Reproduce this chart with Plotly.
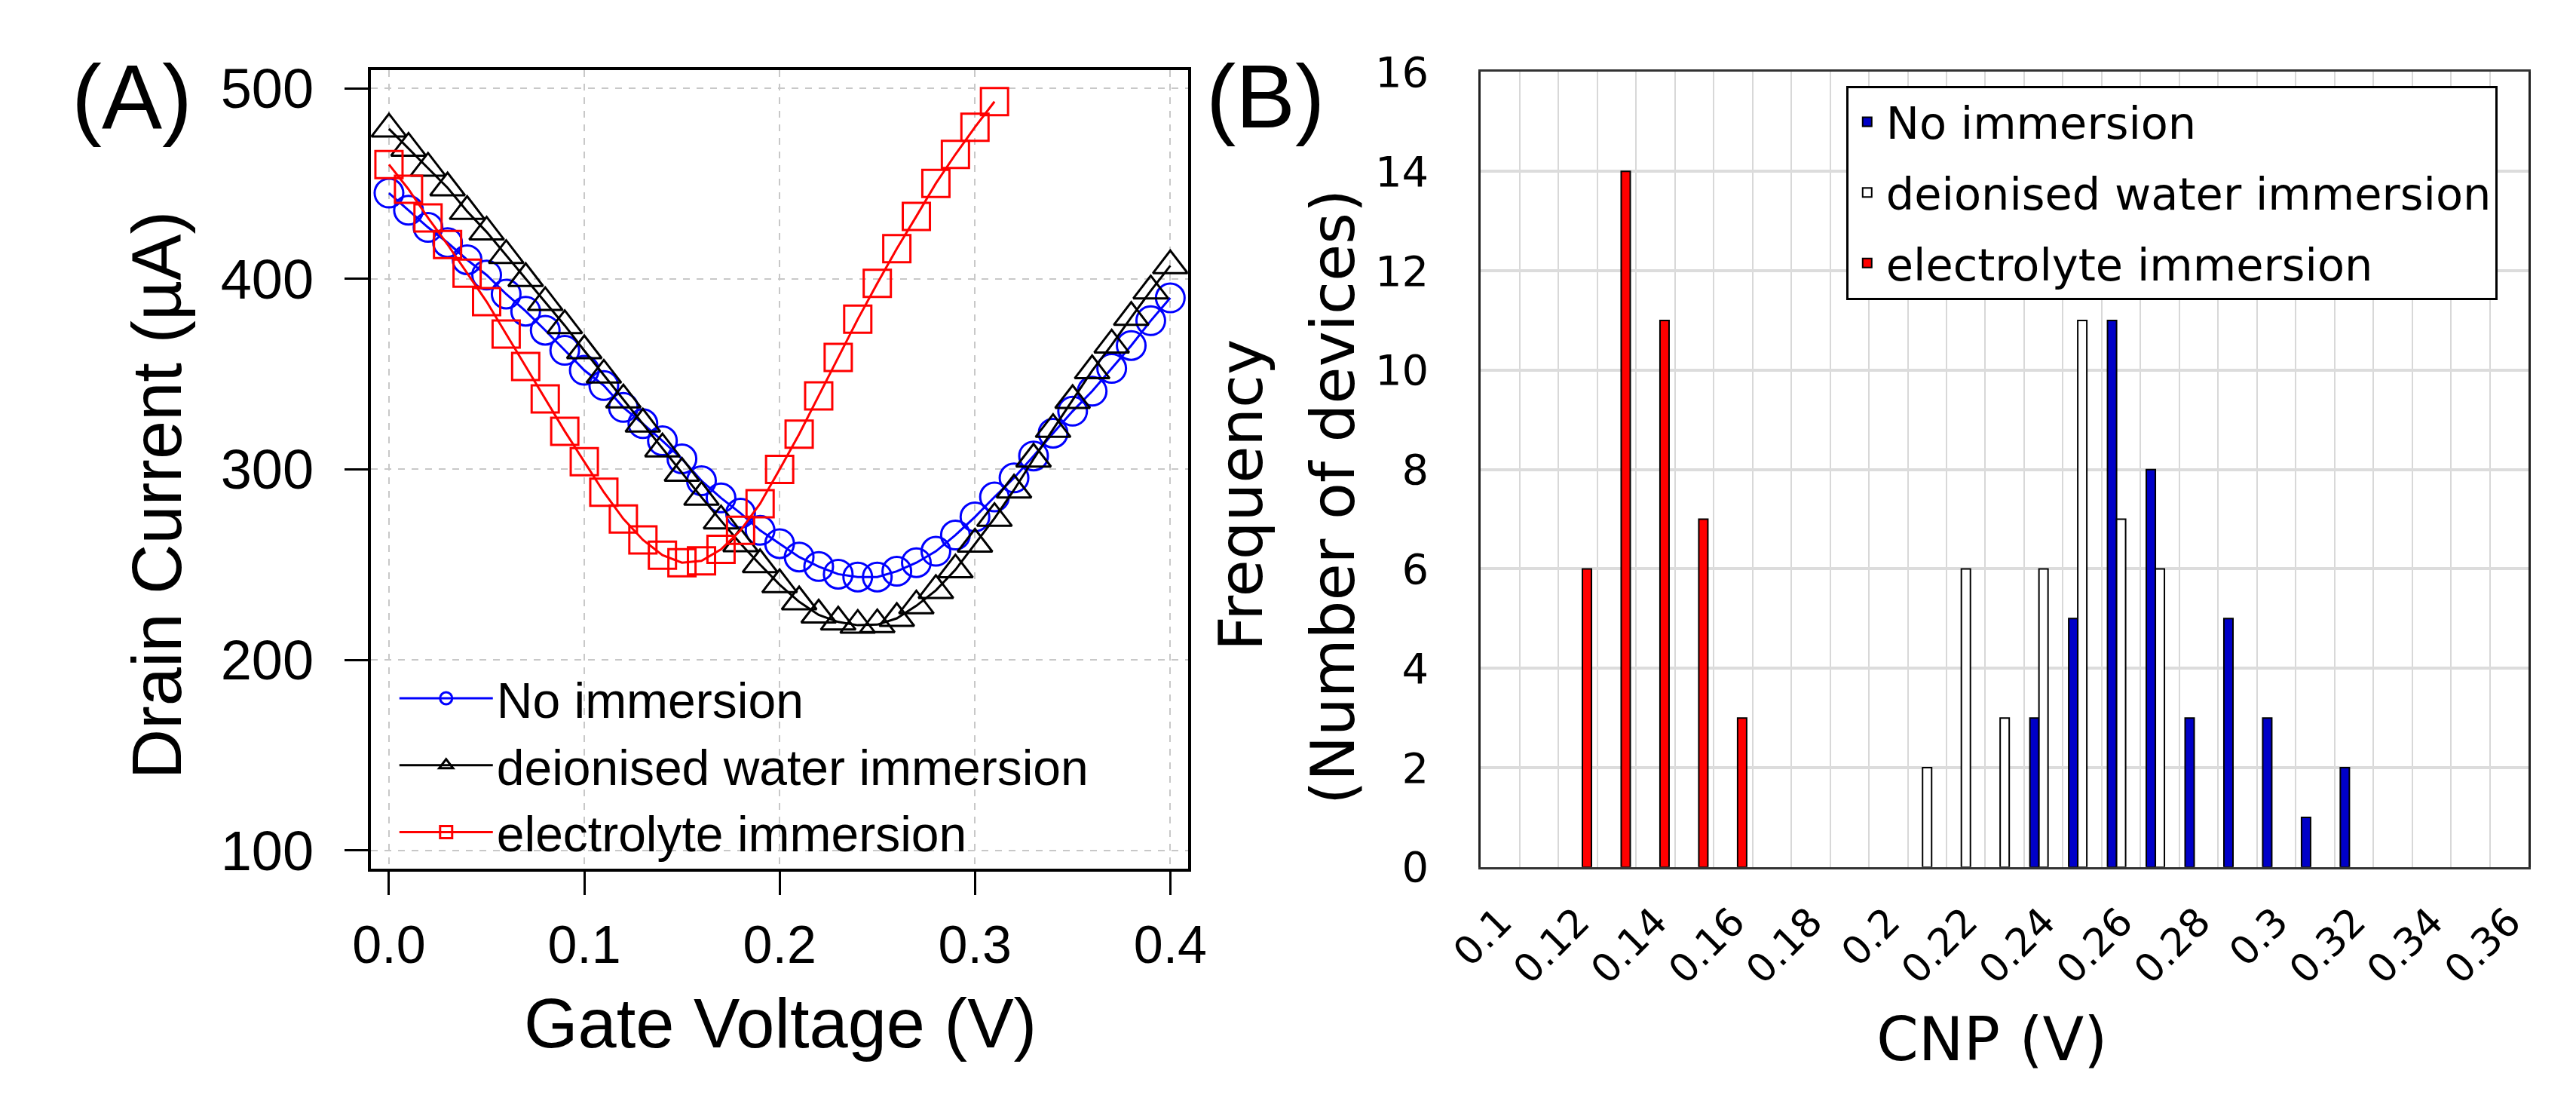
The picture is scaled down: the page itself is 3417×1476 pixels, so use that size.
import plotly.graph_objects as go

# ---------------- Panel A data: transfer curves ----------------
gate_v = [0.00, 0.01, 0.02, 0.03, 0.04, 0.05, 0.06, 0.07, 0.08, 0.09,
          0.10, 0.11, 0.12, 0.13, 0.14, 0.15, 0.16, 0.17, 0.18, 0.19,
          0.20, 0.21, 0.22, 0.23, 0.24, 0.25, 0.26, 0.27, 0.28, 0.29,
          0.30, 0.31, 0.32, 0.33, 0.34, 0.35, 0.36, 0.37, 0.38, 0.39, 0.40]

no_imm_current = [445, 436, 427, 419, 410, 402, 392, 383, 373, 362.5,
                  352, 344, 332.5, 324, 315, 305.5, 294, 285, 277, 268,
                  261, 254, 249, 245, 243.5, 243.5, 246.5, 251, 257, 265.5,
                  275, 285.5, 295.5, 307, 319, 330.5, 341, 353, 365, 378, 390]

di_current = [478.7, 468.6, 458.1, 447.8, 435.4, 424.6, 412.3, 400.2, 387.6, 375.5,
              362.3, 349.5, 336.5, 323.8, 310.8, 298.0, 285.4, 273.0, 261.0, 250.0,
              239.5, 230.5, 223.6, 219.9, 218.2, 218.5, 221.8, 228.4, 236.5, 247.3,
              260.8, 274.3, 289.2, 305.4, 321.0, 336.2, 351.8, 365.3, 379.8, 393.7, 406.9]

el_gate_v = [0.00, 0.01, 0.02, 0.03, 0.04, 0.05, 0.06, 0.07, 0.08, 0.09,
             0.10, 0.11, 0.12, 0.13, 0.14, 0.15, 0.16, 0.17, 0.18, 0.19,
             0.20, 0.21, 0.22, 0.23, 0.24, 0.25, 0.26, 0.27, 0.28, 0.29,
             0.30, 0.31]
el_current = [460, 447, 432, 418, 403, 388, 371, 354, 337, 320,
              304, 288, 274, 263, 255, 251, 252, 258, 268, 282,
              300, 318.5, 338.6, 358.7, 378.8, 397.6, 415.8, 432.8, 450.1, 465.3,
              479.6, 493]

a_xticks = [0.0, 0.1, 0.2, 0.3, 0.4]
a_xticktext = ["0.0", "0.1", "0.2", "0.3", "0.4"]
a_yticks = [100, 200, 300, 400, 500]

# ---------------- Panel B data: CNP histogram ----------------
no_imm_cnp = [0.24, 0.25, 0.26, 0.27, 0.28, 0.29, 0.30, 0.31, 0.32]
no_imm_count = [3, 5, 11, 8, 3, 5, 3, 1, 2]

di_cnp = [0.21, 0.22, 0.23, 0.24, 0.25, 0.26, 0.27]
di_count = [2, 6, 3, 6, 11, 7, 6]

el_cnp = [0.12, 0.13, 0.14, 0.15, 0.16]
el_count = [6, 14, 11, 7, 3]

b_xticks = [0.10, 0.12, 0.14, 0.16, 0.18, 0.20, 0.22, 0.24, 0.26, 0.28, 0.30, 0.32, 0.34, 0.36]
b_xticktext = ["0.1", "0.12", "0.14", "0.16", "0.18", "0.2", "0.22", "0.24",
               "0.26", "0.28", "0.3", "0.32", "0.34", "0.36"]
b_yticks = [0, 2, 4, 6, 8, 10, 12, 14, 16]

names = ["No immersion", "deionised water immersion", "electrolyte immersion"]

# ---------------- figure ----------------
W, H = 3417, 1476
FA = "Liberation Sans, Arial, Helvetica, sans-serif"
FB = "DejaVu Sans, Verdana, sans-serif"

fig = go.Figure()

fig.add_trace(go.Scatter(
    x=gate_v, y=no_imm_current, name=names[0], mode="lines+markers",
    line=dict(color="#0000FF", width=3),
    marker=dict(symbol="circle-open", size=38, color="#0000FF",
                line=dict(color="#0000FF", width=3)),
    xaxis="x", yaxis="y", legend="legend", legendgroup="a1"))
fig.add_trace(go.Scatter(
    x=gate_v, y=di_current, name=names[1], mode="lines+markers",
    line=dict(color="#000000", width=3),
    marker=dict(symbol="triangle-up-open", size=40, color="#000000",
                line=dict(color="#000000", width=3)),
    xaxis="x", yaxis="y", legend="legend", legendgroup="a2"))
fig.add_trace(go.Scatter(
    x=el_gate_v, y=el_current, name=names[2], mode="lines+markers",
    line=dict(color="#FF0000", width=3),
    marker=dict(symbol="square-open", size=36, color="#FF0000",
                line=dict(color="#FF0000", width=3)),
    xaxis="x", yaxis="y", legend="legend", legendgroup="a3"))

bar_line = dict(color="#000000", width=2)
fig.add_trace(go.Bar(x=no_imm_cnp, y=no_imm_count, name=names[0],
                     marker=dict(color="#0000C8", line=bar_line),
                     xaxis="x2", yaxis="y2", legend="legend2", legendgroup="b1"))
fig.add_trace(go.Bar(x=di_cnp, y=di_count, name=names[1],
                     marker=dict(color="#FFFFFF", line=bar_line),
                     xaxis="x2", yaxis="y2", legend="legend2", legendgroup="b2"))
fig.add_trace(go.Bar(x=el_cnp, y=el_count, name=names[2],
                     marker=dict(color="#FF0000", line=bar_line),
                     xaxis="x2", yaxis="y2", legend="legend2", legendgroup="b3"))

def px(x):
    return x / W

def py(y):
    return 1 - y / H

cat_bounds = [0.105 + 0.01 * i for i in range(26)]

fig.update_layout(
    width=W, height=H, autosize=False,
    margin=dict(l=0, r=0, t=0, b=0),
    paper_bgcolor="white", plot_bgcolor="white",
    barmode="group", bargap=0.3, bargroupgap=0,
    xaxis=dict(domain=[px(445.5), px(1553)], range=[-0.00925, 0.40906],
               tickvals=a_xticks, ticktext=a_xticktext,
               ticks="outside", ticklen=31, tickwidth=3, tickcolor="black",
               showline=True, linecolor="black", linewidth=4, mirror=True,
               showgrid=True, gridcolor="#c8c8c8", gridwidth=2, griddash="dash",
               zeroline=False, tickfont=dict(family=FA, size=70, color="black"),
               ticklabelstandoff=6, anchor="y"),
    yaxis=dict(domain=[py(1163), py(55)], range=[90.5, 509.7],
               tickvals=a_yticks,
               ticks="outside", ticklen=31, tickwidth=3, tickcolor="black",
               showline=True, linecolor="black", linewidth=4, mirror=True,
               showgrid=True, gridcolor="#c8c8c8", gridwidth=2, griddash="dash",
               zeroline=False, tickfont=dict(family=FA, size=74, color="black"),
               ticklabelstandoff=26, anchor="x"),
    xaxis2=dict(domain=[px(1950), px(3370)], range=[0.095, 0.365],
                tickvals=b_xticks, ticktext=b_xticktext, tickangle=-45,
                ticks="", showgrid=False,
                minor=dict(tickvals=cat_bounds, showgrid=True,
                           gridcolor="#d8d8d8", gridwidth=2, ticks=""),
                showline=True, linecolor="#333333", linewidth=3, mirror=True,
                zeroline=False, tickfont=dict(family=FB, size=52, color="black"),
                ticklabelstandoff=18, anchor="y2"),
    yaxis2=dict(domain=[py(1161), py(58)], range=[0, 16],
                tickvals=b_yticks, ticks="",
                showgrid=True, gridcolor="#dcdcdc", gridwidth=4,
                showline=True, linecolor="#222222", linewidth=3, mirror=True,
                zeroline=False, tickfont=dict(family=FB, size=56, color="black"),
                ticklabelstandoff=55, anchor="x2"),
    legend=dict(x=px(479), y=py(1020), xanchor="left", yanchor="middle",
                bgcolor="rgba(0,0,0,0)", borderwidth=0,
                font=dict(family=FA, size=66, color="black"),
                itemwidth=124, tracegroupgap=0, traceorder="grouped"),
    legend2=dict(x=px(2445), y=py(77), xanchor="left", yanchor="top",
                 bgcolor="white", bordercolor="black", borderwidth=3,
                 font=dict(family=FB, size=59, color="black"),
                 itemwidth=40, tracegroupgap=14, traceorder="grouped"),
)

annots = [
    dict(text="(A)", x=px(122), y=py(92), font=dict(family=FA, size=120)),
    dict(text="(B)", x=px(1658), y=py(92), font=dict(family=FA, size=118)),
    dict(text="Drain Current (µA)", x=px(155), y=py(645), textangle=-90,
         font=dict(family=FA, size=92)),
    dict(text="Gate Voltage (V)", x=px(1000), y=py(1378),
         font=dict(family=FA, size=92)),
    dict(text="Frequency", x=px(1625), y=py(645), textangle=-90,
         font=dict(family=FB, size=80)),
    dict(text="(Number of devices)", x=px(1750), y=py(648), textangle=-90,
         font=dict(family=FB, size=80)),
    dict(text="CNP (V)", x=px(2643), y=py(1400),
         font=dict(family=FB, size=80)),
]
for a in annots:
    a.update(xref="paper", yref="paper", xanchor="center", yanchor="middle",
             showarrow=False)
    a["font"]["color"] = "black"
fig.update_layout(annotations=annots)

fig.write_html("out.html")
